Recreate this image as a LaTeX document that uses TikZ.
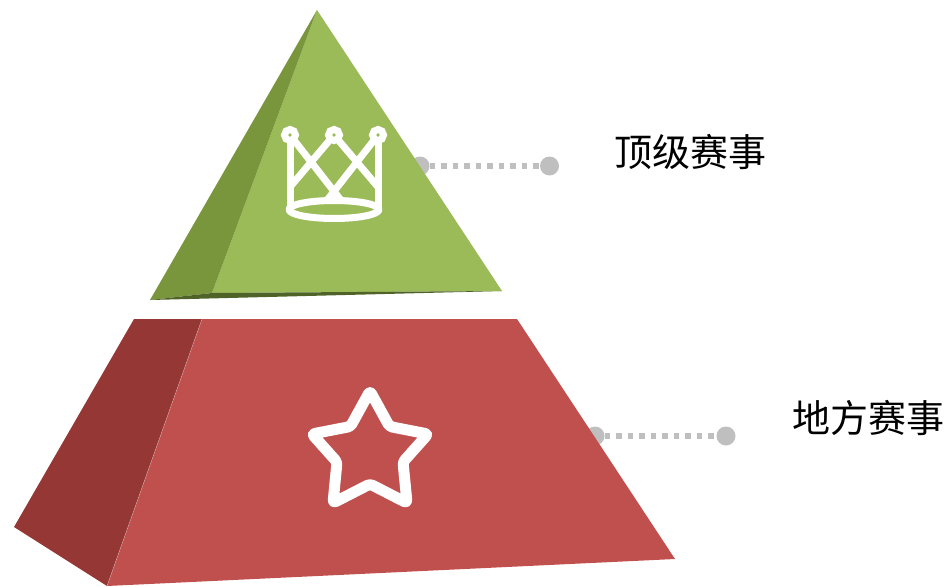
\documentclass[tikz,border=0pt]{standalone}
\usepackage{fontspec}
\newfontfamily\cjk{Noto Sans CJK SC}
\definecolor{grn}{HTML}{9BBB59}
\definecolor{grnd}{HTML}{7A963C}
\definecolor{grnx}{HTML}{4F6228}
\definecolor{redm}{HTML}{C0504D}
\definecolor{redd}{HTML}{953735}
\definecolor{gry}{HTML}{BFBFBF}
\tikzset{
  dotnode/.style={circle,fill=gry,draw=none,minimum size=19pt,inner sep=0pt},
  leader/.style={draw=gry,line width=5.5pt,dash pattern=on 5.5pt off 6pt},
  lbl/.style={font=\cjk\fontsize{38}{38}\selectfont,text=black,inner sep=0pt,anchor=center},
  icon/.style={draw=white,line width=7pt,line join=round},
  staricon/.style={draw=white,line width=11pt,line join=round,rounded corners=3pt},
  seam/.style={draw=white,draw opacity=.35,line width=.6pt}
}
\begin{document}
\begin{tikzpicture}[x=1pt,y=-1pt]
\useasboundingbox (0,0) rectangle (947,586);
% leaders
\node[dotnode] (a1) at (420,166) {};
\node[dotnode] (a2) at (549.5,166) {};
\node[dotnode] (b1) at (595,436) {};
\node[dotnode] (b2) at (726,436) {};
\path[leader] (a1) -- (a2);
\path[leader] (b1) -- (b2);
% top pyramid
\fill[grn] (317,10) -- (502,291) -- (212,293) -- cycle;
\fill[grnd] (317,10) -- (212,293) -- (150,300) -- cycle;
\fill[grnx] (150,300) -- (212,293) -- (502,291) -- cycle;
% bottom pyramid
\fill[redm] (202,319) -- (517,319) -- (675,559) -- (107,586) -- cycle;
\fill[redd] (134,319) -- (202,319) -- (107,586) -- (14,527) -- cycle;
\draw[seam] (202,319) -- (107,586);
% crown
\draw[icon] (290,135) -- (290,210) (378,135) -- (378,210);
\draw[icon] (290,135) -- (340,199) (334,135) -- (290,187) (334,135) -- (378,187) (378,135) -- (328,199);
\draw[icon,fill=grn] (334,209.5) ellipse [x radius=45,y radius=9];
\foreach \cx in {290,334,378}
  \draw[draw=white,line width=7pt,fill=grn] (\cx,135) circle [radius=5.5];
% star
\draw[staricon] (370,391) -- (389.5,426.5) -- (428,434) -- (403,462) -- (407,503) -- (370,484) -- (333,503) -- (337,462) -- (312,434) -- (350.5,426.5) -- cycle;
% labels
\node[lbl] (t1) at (690,152) {顶级赛事};
\node[lbl] (t2) at (868,418) {地方赛事};
\end{tikzpicture}
\end{document}
